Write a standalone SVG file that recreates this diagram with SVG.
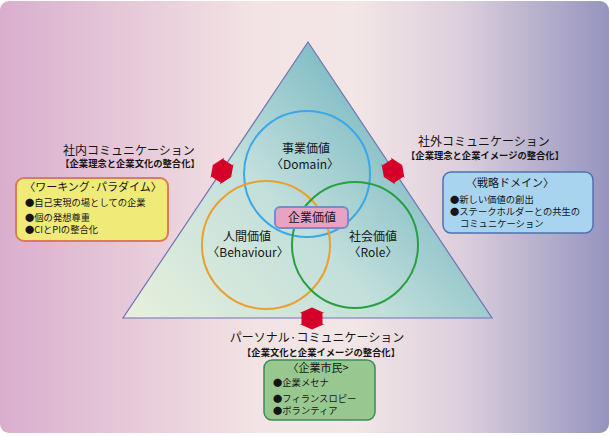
<svg xmlns="http://www.w3.org/2000/svg" width="609" height="436" viewBox="0 0 609 436">
<defs>
<linearGradient id="bg" x1="0" y1="0" x2="1" y2="0">
<stop offset="0" stop-color="#d9aecd"/>
<stop offset="0.42" stop-color="#f3e3e4"/>
<stop offset="0.58" stop-color="#f3e6e6"/>
<stop offset="0.76" stop-color="#dccfdc"/>
<stop offset="1" stop-color="#9694bf"/>
</linearGradient>
<linearGradient id="tri" gradientUnits="userSpaceOnUse" x1="140" y1="318" x2="400" y2="70">
<stop offset="0" stop-color="#e6efdc"/>
<stop offset="0.5" stop-color="#c2dfdb"/>
<stop offset="1" stop-color="#6db2bf"/>
</linearGradient>
<polygon id="arr" points="0,-11 12.5,-5.5 10.5,-5.5 10.5,5.5 12.5,5.5 0,11 -12.5,5.5 -10.5,5.5 -10.5,-5.5 -12.5,-5.5"/>
<style>
text{font-family:"Noto Sans CJK JP","Noto Sans",sans-serif;fill:#151515}
.t{font-size:12px}
.s{font-size:9.3px;font-weight:bold}
.h{font-size:11px}
.i{font-size:9.3px}
.v{font-size:12px;text-anchor:middle}
.m{text-anchor:middle}
.arrow{fill:#d4002a}
.circ{fill:none;stroke-width:2}
</style>
</defs>
<rect x="0" y="1" width="609" height="432" rx="9" fill="url(#bg)"/>
<g id="triangle">
<polygon points="308,42 492,318 123,318" fill="url(#tri)" stroke="#7272b4" stroke-width="1.2"/>
</g>
<g id="domain">
<circle class="circ" cx="307" cy="174" r="63" stroke="#3aa8e8"/>
<text class="v" x="306" y="153">事業価値</text>
<text class="v" x="305" y="169">〈Domain〉</text>
</g>
<g id="behaviour">
<circle class="circ" cx="266" cy="245" r="64" stroke="#e8a030"/>
<text class="v" x="247" y="241">人間価値</text>
<text class="v" x="248" y="257">〈Behaviour〉</text>
</g>
<g id="role">
<circle class="circ" cx="355" cy="245" r="63" stroke="#28a040"/>
<text class="v" x="373" y="241">社会価値</text>
<text class="v" x="373" y="257">〈Role〉</text>
</g>
<g id="corporate-value">
<rect x="275" y="207" width="73" height="21" rx="5" fill="#e8a2c4" stroke="#7090c8" stroke-width="2"/>
<text class="v" x="312" y="222">企業価値</text>
</g>
<g id="connectors">
<use href="#arr" class="arrow" transform="translate(222,171) rotate(-56.2)"/>
<use href="#arr" class="arrow" transform="translate(393,171) rotate(56.2)"/>
<use href="#arr" class="arrow" transform="translate(312,318.5)"/>
</g>
<g id="internal">
<text class="t m" x="129" y="155">社内コミュニケーション</text>
<text class="s m" x="130" y="167">【企業理念と企業文化の整合化】</text>
</g>
<g id="working-paradigm">
<rect x="16" y="178" width="152" height="63" rx="8" fill="#f0ea78" stroke="#e07a52" stroke-width="2"/>
<text class="h m" x="93" y="191">〈ワーキング·パラダイム〉</text>
<text class="i" x="25" y="205.5">●自己実現の場としての企業</text>
<text class="i" x="25" y="220.5">●個の発想尊重</text>
<text class="i" x="25" y="233">●CIとPIの整合化</text>
</g>
<g id="external">
<text class="t m" x="484" y="146">社外コミュニケーション</text>
<text class="s m" x="485" y="159">【企業理念と企業イメージの整合化】</text>
</g>
<g id="strategy-domain">
<rect x="443" y="172" width="150" height="61" rx="8" fill="#a8d4f0" stroke="#5070b0" stroke-width="1.5"/>
<text class="h" x="466" y="187">〈戦略ドメイン〉</text>
<text class="i" x="450" y="202.5">●新しい価値の創出</text>
<text class="i" x="450" y="214.5">●ステークホルダーとの共生の</text>
<text class="i" x="460" y="226.5">コミュニケーション</text>
</g>
<g id="personal">
<text class="t m" x="317" y="342">パーソナル·コミュニケーション</text>
<text class="s m" x="321" y="355.5">【企業文化と企業イメージの整合化】</text>
</g>
<g id="corporate-citizen">
<rect x="264" y="360" width="111" height="60" rx="8" fill="#98c890" stroke="#3a8a5a" stroke-width="1.5"/>
<text class="h m" x="318" y="372">〈企業市民&gt;</text>
<text class="i" x="273" y="385.5">●企業メセナ</text>
<text class="i" x="273" y="401.5">●フィランスロピー</text>
<text class="i" x="273" y="413.5">●ボランティア</text>
</g>
</svg>
